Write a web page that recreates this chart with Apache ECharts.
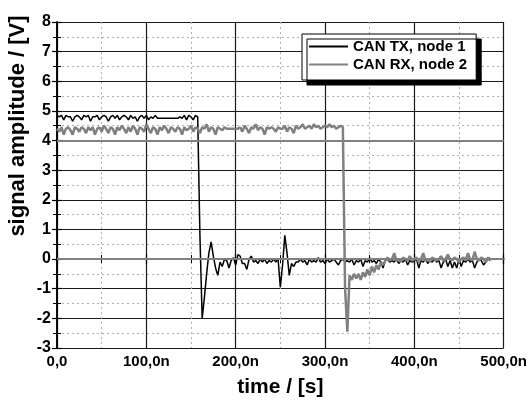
<!DOCTYPE html>
<html lang="en">

<head>
    <meta charset="UTF-8">
    <title>CAN TX / RX</title>
    <script src="https://cdn.jsdelivr.net/npm/echarts@6/dist/echarts.min.js"></script>
</head>
<style>
    body {
        margin: 0;
        background: #fff;
    }

    .box {
        width: 530px;
        height: 403px;
    }
</style>

<body>
    <div class="box" id="myChart"></div>
    <script>
        // sample period of the scope trace, in ns
        const sampleStepNs = 2.5;

        const xTicks = [0, 100, 200, 300, 400, 500];
        const yTicks = [-3, -2, -1, 0, 1, 2, 3, 4, 5, 6, 7, 8];
        // the two grey horizontal reference levels
        const refLevels = [0, 4];

        // CAN TX, node 1 (volts)
        const txValues = [
            4.85, 4.8, 4.85, 4.7, 4.85, 4.8, 4.8, 4.65, 4.8, 4.85, 4.8, 4.7, 4.85, 4.8, 4.85, 4.65, 4.8, 4.8, 4.85, 4.7,
            4.8, 4.85, 4.8, 4.65, 4.8, 4.85, 4.75, 4.85, 4.7, 4.8, 4.85, 4.8, 4.7, 4.85, 4.75, 4.8, 4.65, 4.8, 4.85, 4.75,
            4.85, 4.7, 4.8, 4.75, 4.85, 4.75, 4.75, 4.75, 4.75, 4.75, 4.75, 4.75, 4.75, 4.75, 4.75, 4.8, 4.75, 4.85, 4.7, 4.85,
            4.8, 4.7, 4.85, 4.8,
            0.8, -2.0, -1.3, -0.5, 0.2, 0.58, 0.1, -0.3, -0.55, -0.1, -0.25, 0.0, -0.05, -0.3, -0.05, 0.05,
            -0.2, 0.15, 0.1, -0.15, -0.15, -0.35, 0.0, 0.1, -0.1,
            -0.05, -0.15, 0.0, -0.1, 0.0, -0.15, -0.05, -0.1, 0.0, -0.1, 0.0,
            -0.95, -0.2, 0.8, 0.2, -0.55, -0.15, -0.25, -0.1, -0.1, 0.0,
            -0.1, -0.05, -0.2, 0.0, -0.1, -0.05, -0.1, 0.05, -0.1, -0.05, -0.15, 0.0, -0.1, -0.05, 0.0, -0.1, -0.2, -0.05, 0.0, -0.1, -0.05,
            -0.1, 0.0, -0.2, -0.05, -0.1, 0.0, -0.25, -0.05, -0.1, 0.05, -0.1, -0.05, -0.15, 0.0, -0.1, -0.3, -0.05, 0.0, -0.1, -0.05,
            -0.1, 0.0, -0.15, -0.05, -0.1, 0.0, -0.2, -0.05, -0.1, -0.05, 0.0, -0.3, -0.05, -0.1, 0.0, -0.15, -0.05, -0.1, 0.0, -0.1,
            -0.05, -0.3, -0.1, 0.0, -0.25, -0.05, -0.3, -0.1, -0.3, 0.0, -0.25, -0.05, -0.1, 0.0, -0.1, -0.05, -0.3, -0.1, 0.0, -0.05, -0.2, -0.1, 0.05, -0.05
        ];

        // CAN RX, node 2 (volts)
        const rxValues = [
            4.4, 4.3, 4.45, 4.2, 4.4, 4.45, 4.35, 4.2, 4.45, 4.4, 4.3, 4.45, 4.4, 4.25, 4.45, 4.35,
            4.45, 4.2, 4.4, 4.45, 4.3, 4.5, 4.4, 4.25, 4.45, 4.4, 4.2, 4.45, 4.35, 4.5, 4.4, 4.25,
            4.45, 4.3, 4.5, 4.4, 4.2, 4.45, 4.4, 4.3, 4.55, 4.4, 4.25, 4.45, 4.4, 4.2, 4.45, 4.35,
            4.5, 4.4, 4.25, 4.45, 4.4, 4.3, 4.45, 4.4, 4.2, 4.45, 4.35, 4.4, 4.5, 4.3, 4.45, 4.4,
            4.25, 4.45, 4.4, 4.55, 4.3, 4.45, 4.4, 4.2, 4.45, 4.4, 4.35, 4.45, 4.4, 4.4, 4.4, 4.4,
            4.4, 4.4, 4.45, 4.3, 4.5, 4.4, 4.25, 4.45, 4.4, 4.55, 4.35, 4.45, 4.4, 4.2, 4.45, 4.4,
            4.45, 4.4, 4.3, 4.45, 4.4, 4.4, 4.5, 4.3, 4.45, 4.4, 4.25, 4.5, 4.4, 4.45, 4.55, 4.4,
            4.45, 4.5, 4.4, 4.55, 4.45, 4.5, 4.4, 4.45, 4.5, 4.45, 4.55, 4.45, 4.5, 4.4, 4.45, 4.5,
            4.45,
            -1.0, -2.45, -0.55, -0.7, -0.5, -0.65, -0.5, -0.7, -0.45, -0.6, -0.35, -0.55, -0.25, -0.45, -0.2, -0.35,
            -0.1, -0.2, -0.05, 0.05, -0.05, 0.0, 0.2, -0.05, 0.0, -0.1, 0.05, 0.0, -0.05, 0.1, -0.05, 0.0, 0.05, -0.1, 0.0, 0.2,
            -0.05, 0.0, -0.1, 0.05, 0.0, -0.05, 0.0, 0.1, -0.05, 0.0, 0.15, 0.0, -0.05, 0.05, 0.0, -0.1, 0.0, 0.05, -0.05, 0.2,
            0.0, -0.05, 0.25, 0.0, -0.05, 0.05, 0.0, -0.1, 0.0, 0.05
        ];

        const seriesNames = ['CAN TX, node 1', 'CAN RX, node 2'];

        function toPairs(values) {
            return values.map((v, i) => [i * sampleStepNs, v]);
        }

        const font = 'Liberation Sans, Arial, sans-serif';

        let myEchart = echarts.init(document.getElementById('myChart'));

        const frameLine = { show: true, lineStyle: { color: '#000', width: 1.5 } };
        const majorGrid = { show: true, lineStyle: { color: '#1a1a1a', width: 1.2 } };
        const minorGrid = { show: true, lineStyle: { color: '#b0b0b0', width: 1, type: [2, 3] } };
        const tick = { show: true, inside: true, length: 5, lineStyle: { color: '#000', width: 1.2 } };
        const minorTick = { show: true, splitNumber: 2, length: 4, lineStyle: { color: '#000' } };

        let option = {
            animation: false,
            backgroundColor: '#fff',
            grid: {
                left: 57,
                right: 26,
                top: 22,
                bottom: 54
            },
            legend: {
                left: 302,
                top: 34,
                orient: 'vertical',
                data: seriesNames,
                backgroundColor: '#fff',
                borderColor: '#000',
                borderWidth: 1,
                borderRadius: 0,
                shadowColor: '#000',
                shadowBlur: 0,
                shadowOffsetX: 5,
                shadowOffsetY: 5,
                padding: [5, 9, 8, 6],
                itemGap: 3,
                itemWidth: 39,
                itemHeight: 14,
                itemStyle: { opacity: 0 },
                textStyle: {
                    fontFamily: font,
                    fontSize: 15,
                    fontWeight: 'bold',
                    color: '#000'
                }
            },
            graphic: [{
                type: 'text',
                x: 18,
                y: 126,
                rotation: Math.PI / 2,
                style: {
                    text: 'signal amplitude / [V]',
                    font: 'bold 22px ' + font,
                    fill: '#000',
                    align: 'center',
                    verticalAlign: 'middle'
                }
            }],
            xAxis: [{
                type: 'value',
                min: xTicks[0],
                max: xTicks[xTicks.length - 1],
                interval: 100,
                name: 'time / [s]',
                nameLocation: 'middle',
                nameGap: 29,
                nameTextStyle: { fontFamily: font, fontSize: 21, fontWeight: 'bold', color: '#000' },
                axisLine: frameLine,
                axisTick: tick,
                minorTick: minorTick,
                splitLine: majorGrid,
                minorSplitLine: minorGrid,
                axisLabel: {
                    fontFamily: font,
                    fontSize: 15,
                    fontWeight: 'bold',
                    color: '#000',
                    margin: 6,
                    formatter: v => v === 0 ? '0,0' : v + ',0n'
                }
            }, {
                type: 'value',
                position: 'top',
                min: xTicks[0],
                max: xTicks[xTicks.length - 1],
                interval: 100,
                axisLine: frameLine,
                axisTick: tick,
                minorTick: minorTick,
                splitLine: { show: false },
                axisLabel: { show: false }
            }],
            yAxis: [{
                type: 'value',
                min: yTicks[0],
                max: yTicks[yTicks.length - 1],
                interval: 1,
                axisLine: frameLine,
                axisTick: tick,
                minorTick: minorTick,
                splitLine: majorGrid,
                minorSplitLine: minorGrid,
                axisLabel: {
                    fontFamily: font,
                    fontSize: 16,
                    fontWeight: 'bold',
                    color: '#000',
                    margin: 6
                }
            }, {
                type: 'value',
                position: 'right',
                min: yTicks[0],
                max: yTicks[yTicks.length - 1],
                interval: 1,
                axisLine: frameLine,
                axisTick: tick,
                minorTick: minorTick,
                splitLine: { show: false },
                axisLabel: { show: false }
            }],
            series: [{
                name: seriesNames[0],
                type: 'line',
                showSymbol: false,
                symbol: 'none',
                lineStyle: { color: '#000', width: 1.5 },
                itemStyle: { color: '#000' },
                markLine: {
                    silent: true,
                    symbol: 'none',
                    label: { show: false },
                    lineStyle: { color: '#808080', width: 2, type: 'solid' },
                    data: refLevels.map(v => ({ yAxis: v }))
                },
                data: toPairs(txValues)
            }, {
                name: seriesNames[1],
                type: 'line',
                showSymbol: false,
                symbol: 'none',
                lineStyle: { color: '#808080', width: 2.5 },
                itemStyle: { color: '#808080' },
                data: toPairs(rxValues)
            }]
        };
        myEchart.setOption(option, true);
    </script>
</body>

</html>
